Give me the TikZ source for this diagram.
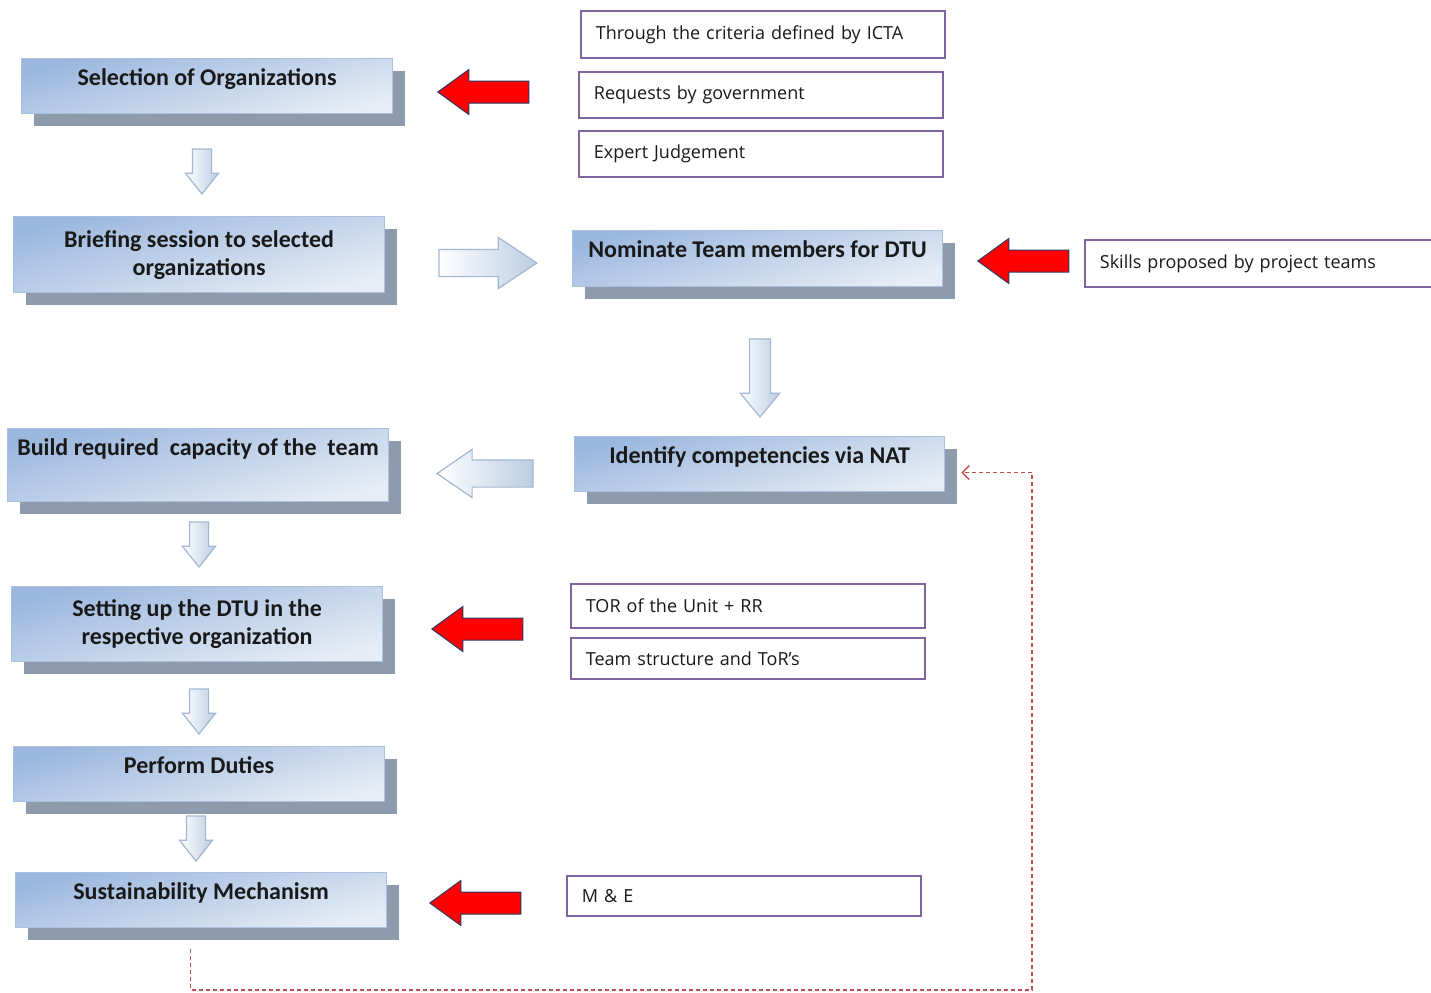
\documentclass[tikz,border=0pt]{standalone}
\usepackage{fontspec}
\setmainfont{Carlito}
\newfontfamily\smallfont{Open Sans}
\usetikzlibrary{shapes.arrows,shadows,arrows.meta,calc}
\definecolor{boxtop}{HTML}{9BB7DE}
\definecolor{boxbot}{HTML}{E6EDF6}
\definecolor{boxline}{HTML}{A9C0DE}
\definecolor{shgrey}{HTML}{8E9BAC}
\definecolor{purp}{HTML}{8064A2}
\definecolor{arrline}{HTML}{A3B7D2}
\definecolor{arrblue}{HTML}{BCCDE3}
\definecolor{fbred}{HTML}{C0504D}
\definecolor{redline}{HTML}{2B3A67}
\begin{document}
\begin{tikzpicture}[x=0.5pt,y=-0.5pt,
  mainbox/.style={rectangle, anchor=north west, inner sep=0pt, draw=boxline, line width=0.6pt,
    top color=boxtop, bottom color=boxbot, shading angle=15,
    drop shadow={shadow xshift=6pt, shadow yshift=-6pt, fill=shgrey, opacity=1},
    font=\bfseries\fontsize{12}{14}\selectfont, text=black!90, align=center},
  oneline/.style={text height=13.5pt, text depth=#1},
  smallbox/.style={rectangle, anchor=north west, draw=purp, line width=0.9pt, fill=white,
    inner xsep=7.5pt, inner ysep=0pt, align=left, font=\smallfont\fontsize{9}{11}\selectfont, text=black!90},
  blockarr/.style={single arrow, anchor=tip, draw=arrline, line width=0.6pt, left color=white, right color=arrblue,
    inner xsep=0pt, single arrow head indent=0pt},
  redarr/.style={single arrow, anchor=tip, draw=redline, line width=0.5pt, fill=red, inner xsep=0pt, inner ysep=5.25pt,
    single arrow head indent=0pt, rotate=180, minimum height=45.5pt,
    single arrow head extend=5.75pt, single arrow tip angle=72},
  smalldown/.style={blockarr, rotate=-90, minimum height=22.5pt, inner ysep=4.5pt,
    single arrow head extend=3.5pt, single arrow tip angle=77},
  fb/.style={draw=fbred, line width=0.7pt, dash pattern=on 2pt off 1.5pt,
    -{Straight Barb[length=3.5pt,width=7pt]}}
]
\fill[white] (0,0) rectangle (1431,992);
\useasboundingbox (0,0) rectangle (1431,992);

% main boxes
\node[mainbox, minimum width=185.5pt, oneline=14pt] (Sel) at (21,58) {Selection of Organizations};
\node[mainbox, minimum width=185.5pt, minimum height=38pt] (Brf) at (13,216) {Briefing session to selected\\organizations};
\node[mainbox, minimum width=190.5pt, oneline=23pt] (Bld) at (7,428) {Build required\ \ capacity of the\ \ team};
\node[mainbox, minimum width=185.5pt, minimum height=37.5pt] (Set) at (11,586) {Setting up the DTU in the\\respective organization};
\node[mainbox, minimum width=185.5pt, oneline=14pt] (Per) at (13,746) {Perform Duties};
\node[mainbox, minimum width=185.5pt, oneline=14pt] (Sus) at (15,872) {Sustainability Mechanism};
\node[mainbox, minimum width=185pt, oneline=14.5pt] (Nom) at (572,230) {Nominate Team members for DTU};
\node[mainbox, minimum width=185pt, oneline=14pt] (Idn) at (574,436) {Identify competencies\ via NAT};

% small boxes
\node[smallbox, text width=167pt, minimum height=23.5pt] (Thr) at (580,10) {Through the criteria defined by ICTA};
\node[smallbox, text width=167pt, minimum height=23pt] (Req) at (578,71) {Requests by government};
\node[smallbox, text width=167pt, minimum height=23pt] (Exp) at (578,130) {Expert Judgement};
\node[smallbox, text width=167pt, minimum height=23.5pt] (Skl) at (1084,239) {Skills proposed by project teams};
\node[smallbox, text width=162pt, minimum height=22pt] (Tor) at (570,583) {TOR of the Unit + RR};
\node[smallbox, text width=162pt, minimum height=20.5pt] (Tsr) at (570,637) {Team structure and ToR’s};
\node[smallbox, text width=162pt, minimum height=20pt] (ME) at (566,875) {M \& E};

% red arrows (placed by their tips)
\node[redarr] (r1) at (437,92) {};
\node[redarr] (r2) at (977,261) {};
\node[redarr] (r3) at (431,629) {};
\node[redarr] (r4) at (429,903) {};

% block arrows (placed by their tips)
\node[smalldown] (d1) at (202,195) {};
\node[blockarr, minimum height=49pt, inner ysep=6.5pt, single arrow head extend=6pt,
  single arrow tip angle=67] (rb) at (538,263) {};
\node[blockarr, rotate=-90, minimum height=39pt, inner ysep=5pt, single arrow head extend=4.5pt,
  single arrow tip angle=79] (dn) at (760,418) {};
\node[blockarr, rotate=180, minimum height=48pt, inner ysep=6.5pt, single arrow head extend=5.25pt,
  single arrow tip angle=69] (li) at (436,473.5) {};
\node[smalldown] (d2) at (199,568) {};
\node[smalldown] (d3) at (199,735) {};
\node[smalldown] (d4) at (196,862) {};

% feedback dashed connector
\coordinate (fbstart) at ([xshift=-5.25pt,yshift=-10.5pt]Sus.south);
\coordinate (fbend) at ([xshift=8pt,yshift=-4.25pt]Idn.east);
\draw[fb] (fbstart) |- (1032,990) |- (fbend);
\end{tikzpicture}
\end{document}
